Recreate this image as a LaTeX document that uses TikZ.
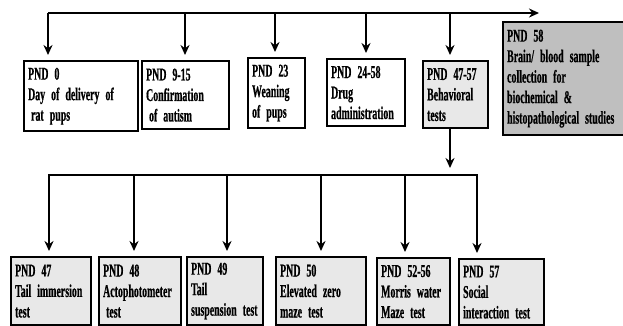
\documentclass[tikz,border=0pt]{standalone}
\usepackage{fontspec}
\newfontfamily\condfont[FakeStretch=0.55,FakeBold=0.6,WordSpace=0.8]{Liberation Serif}
\usetikzlibrary{arrows.meta}
\hyphenpenalty=10000

\tikzset{
    box/.style={draw, line width=2.2pt, anchor=north west, align=left,
        inner xsep=4pt, inner ysep=0pt,
        font=\condfont\bfseries\fontsize{18}{20.5}\selectfont},
    lightbox/.style={box, fill=black!9},
    arr/.style={line width=1.8pt, -{Stealth[length=10pt,width=9pt]}},
    bar/.style={line width=1.8pt}
}

\begin{document}
\begin{tikzpicture}[x=1pt,y=-1pt]
    \useasboundingbox (0,0) rectangle (623,325);

    % Top row boxes
    \node[box, text width=106pt, minimum height=70pt] (t1) at (23,60)
        {PND 0\\Day of delivery of\\\hspace{3pt}rat pups};
    \node[box, text width=79pt, minimum height=68pt] (t2) at (141,60)
        {PND 9-15\\Confirmation\\\hspace{3pt}of autism};
    \node[box, text width=49pt, minimum height=70pt] (t3) at (247,57)
        {PND 23\\Weaning\\of pups};
    \node[box, text width=70pt, minimum height=67pt] (t4) at (326,58)
        {PND 24-58\\Drug\\administration};
    \node[lightbox, text width=57pt, minimum height=67pt] (t5) at (422,60)
        {PND 47-57\\Behavioral\\tests};
    \node[box, fill=black!25, text width=115pt, minimum height=113pt] (t6) at (502,21)
        {PND 58\\Brain/ blood sample\\collection for\\biochemical \&\\histopathological~studies};

    % Timeline on top
    \coordinate (a1) at (48,13);
    \coordinate (a2) at (185,13);
    \coordinate (a3) at (275,13);
    \coordinate (a4) at (366,13);
    \coordinate (a5) at (450,13);
    \coordinate (aend) at (539,13);
    \draw[arr] (a1) -- (aend);
    \foreach \a/\t in {a1/t1, a2/t2, a3/t3, a4/t4, a5/t5} {
        \draw[arr, shorten >=5pt] (\a) -- (\a |- \t.north);
    }

    % Bottom row boxes
    \node[lightbox, text width=72pt, minimum height=68pt] (b1) at (10,256)
        {PND 47\\Tail~immersion\\test};
    \node[lightbox, text width=74pt, minimum height=68pt] (b2) at (98,256)
        {PND 48\\Actophotometer\\\hspace{3pt}test};
    \node[lightbox, text width=68pt, minimum height=68pt] (b3) at (186,256)
        {PND 49\\Tail\\suspension~test};
    \node[lightbox, text width=82pt, minimum height=68pt] (b4) at (275,256)
        {PND 50\\Elevated~zero\\maze test};
    \node[lightbox, text width=65pt, minimum height=67pt] (b5) at (376,257)
        {PND 52-56\\Morris~water\\Maze test};
    \node[lightbox, text width=77pt, minimum height=66pt] (b6) at (458,258)
        {PND 57\\Social\\interaction~test};

    % Behavioral tests branch
    \coordinate (down) at (450,168);
    \draw[arr] (t5.south -| down) -- (down);
    \coordinate (c1) at (49,175);
    \coordinate (c2) at (134,175);
    \coordinate (c3) at (227,175);
    \coordinate (c4) at (321,175);
    \coordinate (c5) at (405,175);
    \coordinate (c6) at (477,175);
    \draw[bar] ([xshift=-0.9pt]c1) -- ([xshift=0.9pt]c6);
    \foreach \c/\b in {c1/b1, c2/b2, c3/b3, c4/b4, c5/b5, c6/b6} {
        \draw[arr, shorten >=5pt] (\c) -- (\c |- \b.north);
    }
\end{tikzpicture}
\end{document}
